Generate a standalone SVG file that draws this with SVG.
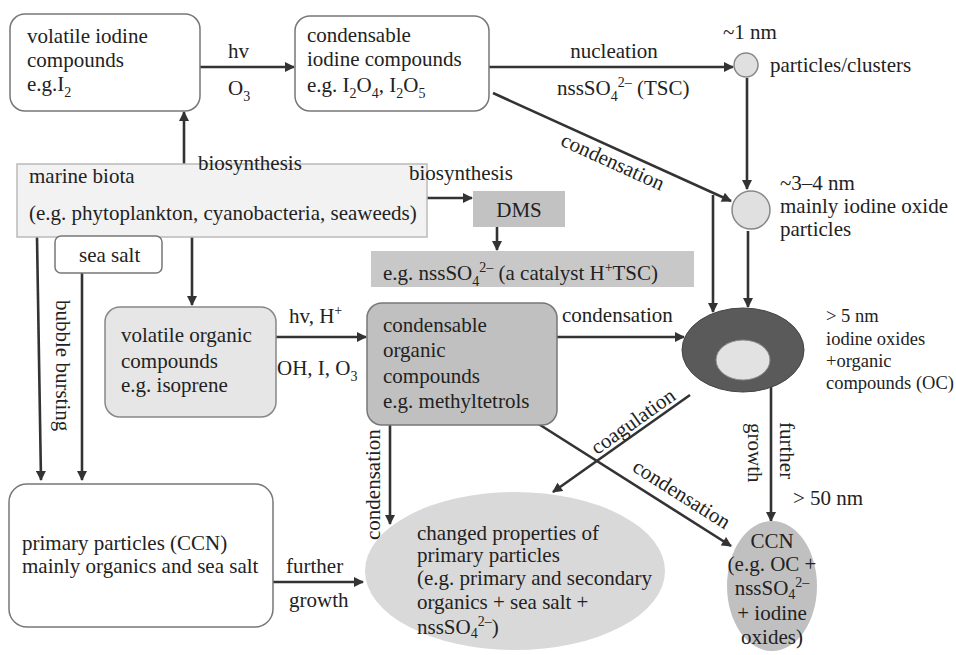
<svg xmlns="http://www.w3.org/2000/svg" width="956" height="655" viewBox="0 0 956 655">
<defs>
<marker id="ah" viewBox="0 0 10 10" refX="9" refY="5" markerWidth="11" markerHeight="10" markerUnits="userSpaceOnUse" orient="auto"><path d="M0,0 L10,5 L0,10 z" fill="#333"/></marker>
</defs>
<style>
text{font-family:"Liberation Serif","Times New Roman",serif;font-size:21px;fill:#222}
.s{font-size:14px}
.sm{font-size:18.5px}
.c{stroke:#333;stroke-width:2.6;fill:none;marker-end:url(#ah)}
.m{text-anchor:middle}
</style>
<rect width="956" height="655" fill="#fff"/>

<g id="connectors">
<path class="c" d="M200,67 H294"/>
<path class="c" d="M184,164 V112"/>
<path class="c" d="M489,67 H733"/>
<path class="c" d="M747,78 V189"/>
<path class="c" d="M493,93 L731,201"/>
<path class="c" d="M713,195 V312"/>
<path class="c" d="M748,231 V307"/>
<path class="c" d="M427,198 H472"/>
<path class="c" d="M497,227 V250"/>
<path class="c" d="M192,237 V305"/>
<path class="c" d="M37,237 L41,480"/>
<path class="c" d="M82,273 V480"/>
<path class="c" d="M276,337 H366"/>
<path class="c" d="M557,337 H684"/>
<path class="c" d="M390,425 V524"/>
<path class="c" d="M537,423 L731,546"/>
<path class="c" d="M690,395 L553,492"/>
<path class="c" d="M771,380 V521"/>
<path class="c" d="M273,582 H363"/>
</g>

<g id="volatile-iodine">
<rect x="10" y="14" width="190" height="97" rx="15" fill="#fff" stroke="#777" stroke-width="1.5"/>
<text x="27" y="43">volatile iodine</text>
<text x="27" y="67">compounds</text>
<text x="27" y="91">e.g.I<tspan dy="6" class="s">2</tspan></text>
</g>
<g id="label-hv-o3">
<text x="228" y="58">hv</text>
<text x="228" y="95">O<tspan dy="6" class="s">3</tspan></text>
</g>

<g id="condensable-iodine">
<rect x="295" y="16" width="194" height="95" rx="15" fill="#fff" stroke="#777" stroke-width="1.5"/>
<text x="307" y="42">condensable</text>
<text x="307" y="66">iodine compounds</text>
<text x="307" y="92">e.g. I<tspan dy="6" class="s">2</tspan><tspan dy="-6">O</tspan><tspan dy="6" class="s">4</tspan><tspan dy="-6">, I</tspan><tspan dy="6" class="s">2</tspan><tspan dy="-6">O</tspan><tspan dy="6" class="s">5</tspan></text>
</g>
<g id="label-nucleation">
<text x="614" y="58" class="m">nucleation</text>
<text x="557" y="95">nssSO<tspan dy="6" class="s">4</tspan><tspan dy="-14" class="s">2–</tspan><tspan dy="8"> (TSC)</tspan></text>
</g>
<g id="label-condensation-1">
<text class="m" transform="translate(610,168) rotate(24.4)">condensation</text>
</g>

<g id="particles-1nm">
<circle cx="746" cy="65" r="12" fill="#e0e0e0" stroke="#888" stroke-width="1.5"/>
<text x="723" y="39">~1 nm</text>
<text x="770" y="72">particles/clusters</text>
</g>

<g id="particles-3nm">
<circle cx="751" cy="210" r="19" fill="#e0e0e0" stroke="#888" stroke-width="1.5"/>
<text x="780" y="190">~3–4 nm</text>
<text x="780" y="213">mainly iodine oxide</text>
<text x="780" y="236">particles</text>
</g>

<g id="marine-biota">
<rect x="17" y="164" width="410" height="73" fill="#f2f2f2" stroke="#bbb" stroke-width="1.5"/>
<text x="29" y="183">marine biota</text>
<text x="29" y="220">(e.g. phytoplankton, cyanobacteria, seaweeds)</text>
</g>
<g id="label-biosynthesis">
<text x="198" y="170">biosynthesis</text>
<text x="409" y="180">biosynthesis</text>
</g>

<g id="dms">
<rect x="473" y="191" width="92" height="36" fill="#c2c2c2"/>
<text x="519" y="217" class="m">DMS</text>
</g>

<g id="sulfate">
<rect x="371" y="251" width="323" height="36" fill="#c8c8c8"/>
<text x="383" y="280">e.g. nssSO<tspan dy="6" class="s">4</tspan><tspan dy="-14" class="s">2–</tspan><tspan dy="8"> (a catalyst H</tspan><tspan dy="-8" class="s">+</tspan><tspan dy="8">TSC)</tspan></text>
</g>

<g id="sea-salt">
<rect x="55" y="236" width="107" height="37" rx="6" fill="#fff" stroke="#777" stroke-width="1.5"/>
<text x="79" y="262">sea salt</text>
</g>
<g id="label-bubble">
<text transform="translate(56,300) rotate(90)">bubble bursting</text>
</g>

<g id="volatile-organic">
<rect x="105" y="307" width="171" height="110" rx="15" fill="#e6e6e6" stroke="#888" stroke-width="1.5"/>
<text x="121" y="342">volatile organic</text>
<text x="121" y="368">compounds</text>
<text x="121" y="392">e.g. isoprene</text>
</g>
<g id="label-hv-h">
<text x="289" y="323">hv, H<tspan dy="-8" class="s">+</tspan></text>
<text x="277" y="375">OH, I, O<tspan dy="6" class="s">3</tspan></text>
</g>

<g id="condensable-organic">
<rect x="367" y="303" width="190" height="122" rx="15" fill="#c0c0c0" stroke="#777" stroke-width="1.5"/>
<text x="383" y="332">condensable</text>
<text x="383" y="357">organic</text>
<text x="383" y="383">compounds</text>
<text x="383" y="408">e.g. methyltetrols</text>
</g>
<g id="label-condensation-2">
<text x="562" y="322">condensation</text>
<text transform="translate(380,540) rotate(-90)">condensation</text>
<text class="m" transform="translate(678,500) rotate(32.4)">condensation</text>
<text class="m" transform="translate(637,427) rotate(-35.3)">coagulation</text>
</g>

<g id="particles-5nm">
<ellipse cx="743" cy="350" rx="61" ry="42" fill="#5a5a5a" stroke="#444" stroke-width="1"/>
<ellipse cx="743" cy="360" rx="27" ry="20" fill="#e2e2e2" stroke="#888" stroke-width="1"/>
<text x="826" y="322" class="sm">&gt; 5 nm</text>
<text x="826" y="345" class="sm">iodine oxides</text>
<text x="826" y="367" class="sm">+organic</text>
<text x="826" y="389" class="sm">compounds (OC)</text>
</g>
<g id="label-further-growth-1">
<text transform="translate(748,423) rotate(90)">growth</text>
<text transform="translate(780,422) rotate(90)">further</text>
<text x="793" y="505">&gt; 50 nm</text>
</g>

<g id="ccn">
<ellipse cx="772" cy="586" rx="45" ry="65" fill="#c0c0c0"/>
<text x="772" y="548" class="m">CCN</text>
<text x="772" y="571" class="m">(e.g. OC +</text>
<text x="772" y="595" class="m">nssSO<tspan dy="4" class="s">4</tspan><tspan dy="-12" class="s">2–</tspan></text>
<text x="772" y="620" class="m">+ iodine</text>
<text x="772" y="644" class="m">oxides)</text>
</g>

<g id="primary-particles">
<rect x="9" y="484" width="264" height="143" rx="18" fill="#fff" stroke="#777" stroke-width="1.5"/>
<text x="22" y="550">primary particles (CCN)</text>
<text x="22" y="573">mainly organics and sea salt</text>
</g>
<g id="label-further-growth-2">
<text x="286" y="573">further</text>
<text x="289" y="607">growth</text>
</g>

<g id="changed-properties">
<ellipse cx="515" cy="571" rx="150" ry="79" fill="#d9d9d9"/>
<text x="417" y="540">changed properties of</text>
<text x="417" y="562">primary particles</text>
<text x="417" y="585">(e.g. primary and secondary</text>
<text x="417" y="609">organics + sea salt +</text>
<text x="417" y="634">nssSO<tspan dy="4" class="s">4</tspan><tspan dy="-12" class="s">2–</tspan><tspan dy="8">)</tspan></text>
</g>
</svg>
